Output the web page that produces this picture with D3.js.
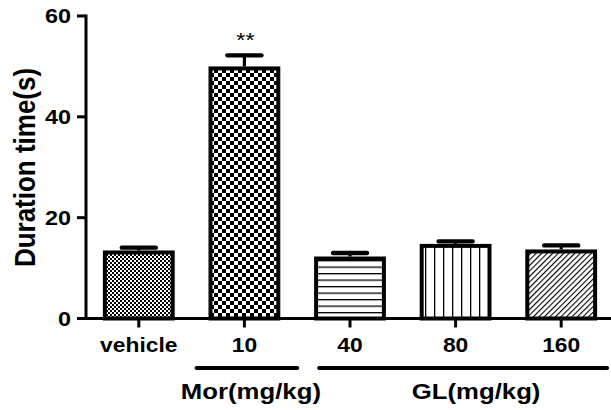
<!DOCTYPE html>
<html>
<head>
<meta charset="utf-8">
<script src="https://cdn.jsdelivr.net/npm/d3@7"></script>
<style>
  html, body { margin: 0; padding: 0; background: #fff; }
  svg { display: block; }
  text { font-family: "Liberation Sans", Arial, sans-serif; fill: #000; }
</style>
</head>
<body>
<svg id="chart" width="611" height="410"></svg>
<script>
// ---- data ----
const categories = ["vehicle", "10", "40", "80", "160"];
const means      = [13.1, 49.6, 11.9, 14.4, 13.3];
const sems       = [0.95, 2.6, 1.1, 0.9, 1.2];
const marks      = ["", "**", "", "", ""];
const patternIds = ["fineCheck", "check", "hlines", "vlines", "diag"];
const yTicks     = [0, 20, 40, 60];
const groupLabels = ["Mor(mg/kg)", "GL(mg/kg)"];
const groupFrom   = ["10", "40"];
const groupTo     = ["10", "160"];
const yTitle = "Duration time(s)";

// ---- layout ----
const W = 611, H = 410;
const x0 = 86, x1 = 614, yBottom = 318.5, yTop = 16;
const SX = 1.17; // horizontal text stretch of the original

const svg = d3.select("#chart");

const x = d3.scaleBand().domain(categories).range([x0, x1])
  .paddingInner(0.32).paddingOuter(0.16);
const y = d3.scaleLinear().domain([0, 60]).range([yBottom, yTop]);

// ---- patterns ----
const defs = svg.append("defs");
{
  const p = defs.append("pattern").attr("id", "fineCheck")
    .attr("patternUnits", "userSpaceOnUse").attr("width", 4).attr("height", 4);
  p.append("rect").attr("width", 4).attr("height", 4).attr("fill", "#fff");
  p.append("rect").attr("x", 0).attr("y", 0).attr("width", 2).attr("height", 2).attr("fill", "#000");
  p.append("rect").attr("x", 2).attr("y", 2).attr("width", 2).attr("height", 2).attr("fill", "#000");
}
{
  const s = 4;
  const p = defs.append("pattern").attr("id", "check")
    .attr("patternUnits", "userSpaceOnUse").attr("width", 2 * s).attr("height", 2 * s)
    .attr("x", 2).attr("y", 1);
  p.append("rect").attr("width", 2 * s).attr("height", 2 * s).attr("fill", "#fff");
  p.append("rect").attr("x", 0).attr("y", 0).attr("width", s).attr("height", s).attr("fill", "#000");
  p.append("rect").attr("x", s).attr("y", s).attr("width", s).attr("height", s).attr("fill", "#000");
}
{
  const p = defs.append("pattern").attr("id", "hlines")
    .attr("patternUnits", "userSpaceOnUse").attr("width", 10).attr("height", 6.5);
  p.append("rect").attr("width", 10).attr("height", 6.5).attr("fill", "#fff");
  p.append("rect").attr("x", 0).attr("y", 0).attr("width", 10).attr("height", 1.3).attr("fill", "#000");
}
{
  const p = defs.append("pattern").attr("id", "vlines")
    .attr("patternUnits", "userSpaceOnUse").attr("width", 9).attr("height", 10).attr("x", 2);
  p.append("rect").attr("width", 9).attr("height", 10).attr("fill", "#fff");
  p.append("rect").attr("x", 0).attr("y", 0).attr("width", 1.3).attr("height", 10).attr("fill", "#000");
}
{
  const p = defs.append("pattern").attr("id", "diag")
    .attr("patternUnits", "userSpaceOnUse").attr("width", 3.9).attr("height", 10)
    .attr("patternTransform", "rotate(45)");
  p.append("rect").attr("width", 3.9).attr("height", 10).attr("fill", "#fff");
  p.append("rect").attr("x", 0).attr("y", 0).attr("width", 1.1).attr("height", 10).attr("fill", "#000");
}

// ---- bars ----
const bw = x.bandwidth() - 4;
svg.append("g").selectAll("rect").data(categories).join("rect")
  .attr("x", d => x(d) + 2)
  .attr("y", (d, i) => y(means[i]))
  .attr("width", bw)
  .attr("height", (d, i) => y(0) - y(means[i]))
  .attr("fill", (d, i) => `url(#${patternIds[i]})`)
  .attr("stroke", "#000").attr("stroke-width", 4);

// ---- error bars ----
const eb = svg.append("g");
categories.forEach((c, i) => {
  const cx = x(c) + x.bandwidth() / 2;
  eb.append("line").attr("x1", cx).attr("x2", cx)
    .attr("y1", y(means[i]) - 2).attr("y2", y(means[i] + sems[i]))
    .attr("stroke", "#000").attr("stroke-width", 3.2);
  eb.append("line").attr("x1", cx - 17).attr("x2", cx + 17)
    .attr("y1", y(means[i] + sems[i])).attr("y2", y(means[i] + sems[i]))
    .attr("stroke", "#000").attr("stroke-width", 4.4).attr("stroke-linecap", "round");
});

// ---- significance marks ----
categories.forEach((c, i) => {
  if (!marks[i]) return;
  const cx = x(c) + x.bandwidth() / 2;
  svg.append("g").attr("transform", `translate(${cx + 1},${y(means[i] + sems[i]) - 8}) scale(${SX},1)`)
    .append("text").attr("text-anchor", "middle").attr("font-size", 20)
    .text(marks[i]);
});

// ---- y axis ----
const ya = svg.append("g");
ya.append("line").attr("x1", x0).attr("x2", x0).attr("y1", y(60) - 1.5).attr("y2", y(0))
  .attr("stroke", "#000").attr("stroke-width", 3);
yTicks.forEach(t => {
  ya.append("line").attr("x1", x0 - 9).attr("x2", x0).attr("y1", y(t)).attr("y2", y(t))
    .attr("stroke", "#000").attr("stroke-width", 3);
  ya.append("g").attr("transform", `translate(${x0 - 15},${y(t) + 7}) scale(${SX},1)`)
    .append("text").attr("text-anchor", "end").attr("font-size", 20).attr("font-weight", "bold")
    .text(t);
});

// ---- x axis ----
const xa = svg.append("g");
xa.append("line").attr("x1", x0 - 1.5).attr("x2", W).attr("y1", y(0)).attr("y2", y(0))
  .attr("stroke", "#000").attr("stroke-width", 3);
categories.forEach(c => {
  const cx = x(c) + x.bandwidth() / 2;
  xa.append("line").attr("x1", cx).attr("x2", cx).attr("y1", y(0)).attr("y2", y(0) + 9)
    .attr("stroke", "#000").attr("stroke-width", 3);
  xa.append("g").attr("transform", `translate(${cx},${352}) scale(${SX},1)`)
    .append("text").attr("text-anchor", "middle").attr("font-size", 19.5).attr("font-weight", "bold")
    .text(c);
});

// ---- group lines & labels ----
const gStartPad = [-12, 5];
const gEndPad = [17, 10];
const gLabelShift = [4, 13];
groupLabels.forEach((lab, i) => {
  const gx1 = x(groupFrom[i]) + gStartPad[i];
  const gx2 = x(groupTo[i]) + x.bandwidth() + gEndPad[i];
  svg.append("line").attr("x1", gx1).attr("x2", gx2).attr("y1", 368).attr("y2", 368)
    .attr("stroke", "#000").attr("stroke-width", 4).attr("stroke-linecap", "round");
  svg.append("g").attr("transform", `translate(${(gx1 + gx2) / 2 + gLabelShift[i]},399) scale(${SX},1)`)
    .append("text").attr("text-anchor", "middle").attr("font-size", 22).attr("font-weight", "bold")
    .text(lab);
});

// ---- y title ----
svg.append("g").attr("transform", `translate(35,167.5) scale(${SX},1) rotate(-90)`)
  .append("text").attr("text-anchor", "middle").attr("font-size", 26).attr("font-weight", "bold")
  .text(yTitle);
</script>
</body>
</html>
